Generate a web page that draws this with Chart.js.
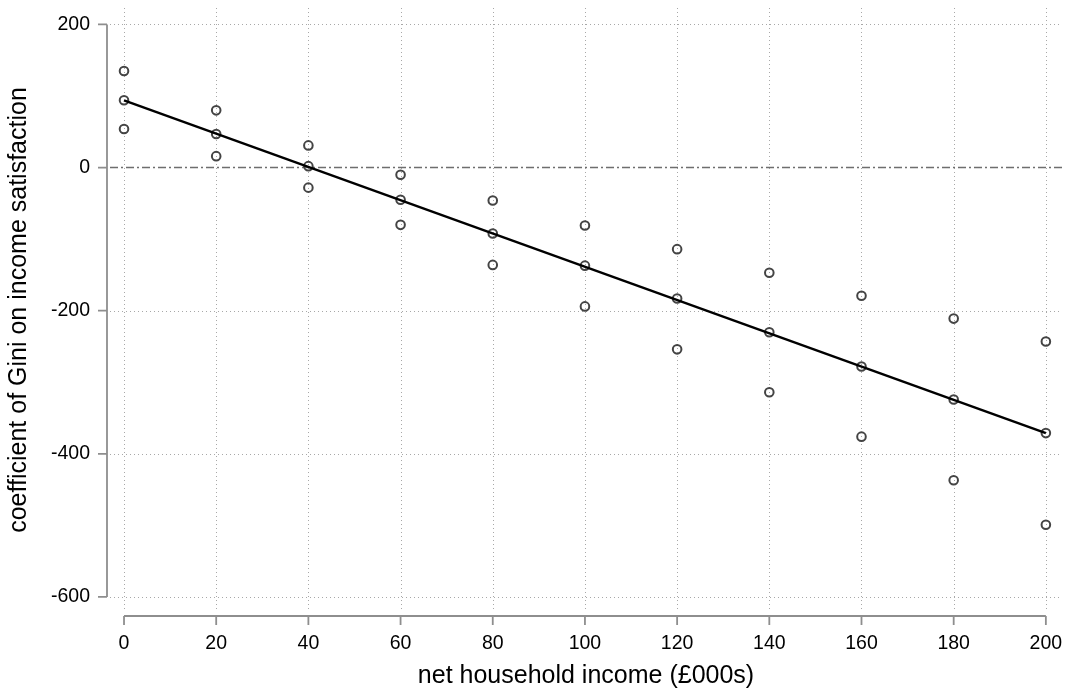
<!DOCTYPE html>
<html>
<head>
<meta charset="utf-8">
<script src="https://cdn.jsdelivr.net/npm/chart.js@4/dist/chart.umd.min.js"></script>
<style>
  html, body { margin: 0; padding: 0; background: #fff; }
  #wrap { width: 1072px; height: 689px; }
</style>
</head>
<body>
<div id="wrap"><canvas id="c" width="1072" height="689"></canvas></div>
<script>
// Net household income (£000s) at which the effect is evaluated
const incomes = [0, 20, 40, 60, 80, 100, 120, 140, 160, 180, 200];
// Upper bound, point estimate and lower bound of the Gini coefficient
const upperBound = [135, 80, 31, -10, -46, -81, -114, -147, -179, -211, -243];
const estimate   = [94, 47, 2, -45, -92, -137, -183, -230, -278, -324, -371];
const lowerBound = [54, 16, -28, -80, -136, -194, -254, -314, -376, -437, -499];
// Fitted linear trend, evaluated at the first and last income
const fitIncome = [0, 200];
const fitValue  = [94, -371];
// Axis tick labels
const xTicks = [0, 20, 40, 60, 80, 100, 120, 140, 160, 180, 200];
const yTicks = [-600, -400, -200, 0, 200];

const FONT = "'Liberation Sans', Arial, Helvetica, sans-serif";
const pts = (xs, ys) => xs.map((x, i) => ({ x: x, y: ys[i] }));

const markerStyle = {
  type: 'scatter',
  showLine: false,
  pointRadius: 4.3,
  pointHoverRadius: 4.3,
  pointBorderWidth: 2,
  pointBorderColor: '#444',
  pointBackgroundColor: 'rgba(0,0,0,0)',
  order: 1
};

const noPad = s => { s.paddingTop = 0; s.paddingBottom = 0; s.paddingLeft = 0; s.paddingRight = 0; };

// Stata-style dotted grid, detached axes and the dash-dot reference line at zero
const axesPlugin = {
  id: 'statAxes',
  beforeDatasetsDraw(chart) {
    const { ctx, chartArea, scales } = chart;
    const x = scales.x, y = scales.y;
    ctx.save();

    // dotted grid
    ctx.strokeStyle = '#a8a8a8';
    ctx.lineWidth = 1;
    ctx.setLineDash([1, 3]);
    ctx.beginPath();
    xTicks.forEach(v => {
      const p = Math.round(x.getPixelForValue(v)) + 0.5;
      ctx.moveTo(p, chartArea.top);
      ctx.lineTo(p, chartArea.bottom);
    });
    yTicks.forEach(v => {
      if (v === 0) return;
      const p = Math.round(y.getPixelForValue(v)) + 0.5;
      ctx.moveTo(chartArea.left, p);
      ctx.lineTo(chartArea.right, p);
    });
    ctx.stroke();

    // reference line at zero
    const y0 = y.getPixelForValue(0);
    ctx.strokeStyle = '#6e6e6e';
    ctx.lineWidth = 1.5;
    ctx.setLineDash([8, 3, 2, 3]);
    ctx.beginPath();
    ctx.moveTo(chartArea.left, y0);
    ctx.lineTo(chartArea.right, y0);
    ctx.stroke();
    ctx.setLineDash([]);

    ctx.strokeStyle = '#8e8e8e';
    ctx.lineWidth = 1.8;
    // y axis
    const ax = chartArea.left - 3;
    ctx.beginPath();
    ctx.moveTo(ax, y.getPixelForValue(yTicks[yTicks.length - 1]));
    ctx.lineTo(ax, y.getPixelForValue(yTicks[0]));
    yTicks.forEach(v => {
      const p = y.getPixelForValue(v);
      ctx.moveTo(ax, p);
      ctx.lineTo(ax - 9, p);
    });
    ctx.stroke();
    // x axis
    const ay = chartArea.bottom + 4;
    ctx.beginPath();
    ctx.moveTo(x.getPixelForValue(xTicks[0]), ay);
    ctx.lineTo(x.getPixelForValue(xTicks[xTicks.length - 1]), ay);
    xTicks.forEach(v => {
      const p = x.getPixelForValue(v);
      ctx.moveTo(p, ay);
      ctx.lineTo(p, ay + 9);
    });
    ctx.stroke();
    ctx.restore();
  }
};

new Chart(document.getElementById('c'), {
  type: 'scatter',
  data: {
    datasets: [
      Object.assign({ label: 'upper', data: pts(incomes, upperBound) }, markerStyle),
      Object.assign({ label: 'estimate', data: pts(incomes, estimate) }, markerStyle),
      Object.assign({ label: 'lower', data: pts(incomes, lowerBound) }, markerStyle),
      {
        type: 'line',
        label: 'fit',
        data: pts(fitIncome, fitValue),
        borderColor: '#000',
        borderWidth: 2.4,
        pointRadius: 0,
        fill: false,
        order: 0
      }
    ]
  },
  options: {
    responsive: false,
    animation: false,
    events: [],
    layout: { padding: { top: 8, right: 10, left: 0, bottom: 0 } },
    plugins: { legend: { display: false }, tooltip: { enabled: false } },
    scales: {
      x: {
        type: 'linear',
        min: -3.04,
        max: 203.5,
        afterBuildTicks: s => { s.ticks = xTicks.map(v => ({ value: v })); },
        afterFit: s => { s.height = 77; noPad(s); },
        border: { display: false },
        grid: { display: false, drawTicks: false },
        ticks: { padding: 20, color: '#000', font: { family: FONT, size: 19.5 }, maxRotation: 0 },
        title: { display: true, text: 'net household income (£000s)', color: '#000',
                 font: { family: FONT, size: 25, lineHeight: 1 }, padding: { top: 0, bottom: 0 } }
      },
      y: {
        type: 'linear',
        min: -621,
        max: 223,
        afterBuildTicks: s => { s.ticks = yTicks.map(v => ({ value: v })); },
        afterFit: s => { s.width = 110; noPad(s); },
        border: { display: false },
        grid: { display: false, drawTicks: false },
        ticks: { padding: 20, color: '#000', font: { family: FONT, size: 19.5 } },
        title: { display: true, text: 'coefficient of Gini on income satisfaction', color: '#000',
                 font: { family: FONT, size: 25 }, padding: { top: 4, bottom: 0 } }
      }
    }
  },
  plugins: [axesPlugin]
});
</script>
</body>
</html>
